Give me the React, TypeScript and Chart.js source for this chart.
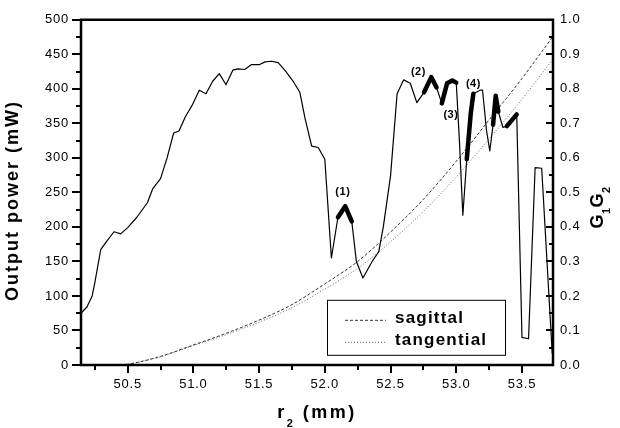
import React, { useEffect, useRef } from "react";
import { Chart, registerables } from "chart.js";
Chart.register(...registerables);

// ---- data ----
const r2Power = [50.15, 50.19, 50.23, 50.25, 50.295, 50.34, 50.396, 50.447, 50.5, 50.57, 50.65, 50.69, 50.75, 50.8, 50.85, 50.89, 50.94, 50.99, 51.045, 51.096, 51.147, 51.197, 51.248, 51.3, 51.34, 51.39, 51.44, 51.5, 51.545, 51.595, 51.645, 51.7, 51.755, 51.81, 51.85, 51.9, 51.95, 52.0, 52.05, 52.1, 52.155, 52.205, 52.24, 52.29, 52.36, 52.41, 52.445, 52.5, 52.55, 52.6, 52.65, 52.7, 52.755, 52.81, 52.85, 52.89, 52.93, 52.97, 53.0, 53.025, 53.05, 53.08, 53.11, 53.13, 53.18, 53.2, 53.23, 53.255, 53.28, 53.3, 53.32, 53.355, 53.385, 53.46, 53.5, 53.55, 53.6, 53.65, 53.73];
const outputPower = [76, 84, 100, 119, 167, 179, 193, 190, 199, 214, 235, 255, 270, 300, 336, 339, 360, 376, 398, 393, 411, 422, 406, 427, 429, 428, 435, 435, 439, 440, 438, 426, 412, 395, 357, 317, 315, 298, 155, 214, 230, 208, 150, 126, 150, 164, 200, 274, 393, 413, 408, 380, 395, 417, 402, 379, 408, 412, 409, 321, 217, 298, 364, 393, 398, 398, 340, 310, 348, 390, 367, 344, 346, 363, 40, 38, 286, 285, 17];
// stretches of the power curve drawn with a heavy line [from r2, to r2]
const thickStart = [52.1, 52.755, 52.89, 53.08, 53.28, 53.385];
const thickEnd = [52.205, 52.85, 53.0, 53.13, 53.32, 53.46];

const r2G = [50.45, 50.5, 50.75, 51.0, 51.25, 51.5, 51.75, 52.0, 52.25, 52.5, 52.75, 53.0, 53.25, 53.5, 53.736];
const sagittalG = [0, 0.002, 0.025, 0.058, 0.092, 0.13, 0.175, 0.235, 0.3, 0.385, 0.48, 0.59, 0.71, 0.83, 0.952];
const tangentialG = [0, 0.002, 0.024, 0.056, 0.088, 0.124, 0.166, 0.22, 0.28, 0.357, 0.445, 0.545, 0.655, 0.77, 0.886];

const peakLabels = ["(1)", "(2)", "(3)", "(4)"];
const peakX = [52.137, 52.712, 52.959, 53.13];
const peakY = [250, 424, 362, 407];

const xTicks = [50.5, 51.0, 51.5, 52.0, 52.5, 53.0, 53.5];
const xMinorTicks = [50.25, 50.75, 51.25, 51.75, 52.25, 52.75, 53.25];
const powerTicks = [0, 50, 100, 150, 200, 250, 300, 350, 400, 450, 500];
const powerMinorTicks = [25, 75, 125, 175, 225, 275, 325, 375, 425, 475];
const gTicks = [0, 0.1, 0.2, 0.3, 0.4, 0.5, 0.6, 0.7, 0.8, 0.9, 1.0];
const gMinorTicks = [0.05, 0.15, 0.25, 0.35, 0.45, 0.55, 0.65, 0.75, 0.85, 0.95];

const X_MIN = 50.145;
const X_MAX = 53.736;

const FONT = '"Liberation Sans", Arial, Helvetica, sans-serif';

const isThick = (a: number, b: number) => {
  for (let i = 0; i < thickStart.length; i++) {
    if (a >= thickStart[i] - 1e-6 && b <= thickEnd[i] + 1e-6) return true;
  }
  return false;
};

const decorPlugin = {
  id: "decor",
  beforeDraw(chart: any) {
    chart.ctx.letterSpacing = "0.8px";
  },
  afterDraw(chart: any) {
    const ctx = chart.ctx as CanvasRenderingContext2D;
    const { left, right, top, bottom } = chart.chartArea;
    const xs = chart.scales.x;
    const ys = chart.scales.y;
    const y2 = chart.scales.y2;
    ctx.save();
    (ctx as any).letterSpacing = "0px";
    ctx.strokeStyle = "#000";
    ctx.fillStyle = "#000";

    // frame
    ctx.lineWidth = 2.5;
    ctx.beginPath();
    ctx.rect(left, top, right - left, bottom - top);
    ctx.stroke();

    // tick marks
    ctx.lineWidth = 2;
    ctx.beginPath();
    xTicks.forEach((v) => {
      const p = Math.round(xs.getPixelForValue(v));
      ctx.moveTo(p, bottom);
      ctx.lineTo(p, bottom + 8);
    });
    xMinorTicks.forEach((v) => {
      const p = Math.round(xs.getPixelForValue(v));
      ctx.moveTo(p, bottom);
      ctx.lineTo(p, bottom + 5);
    });
    powerTicks.forEach((v) => {
      const p = Math.round(ys.getPixelForValue(v));
      ctx.moveTo(left - 9, p);
      ctx.lineTo(left, p);
    });
    powerMinorTicks.forEach((v) => {
      const p = Math.round(ys.getPixelForValue(v));
      ctx.moveTo(left - 5, p);
      ctx.lineTo(left, p);
    });
    gTicks.forEach((v) => {
      const p = Math.round(y2.getPixelForValue(v));
      ctx.moveTo(right - 7, p);
      ctx.lineTo(right, p);
    });
    gMinorTicks.forEach((v) => {
      const p = Math.round(y2.getPixelForValue(v));
      ctx.moveTo(right - 4, p);
      ctx.lineTo(right, p);
    });
    ctx.stroke();

    // peak annotations
    ctx.font = `bold 11px ${FONT}`;
    (ctx as any).letterSpacing = "0.5px";
    ctx.textAlign = "center";
    ctx.textBaseline = "middle";
    peakLabels.forEach((t, i) => {
      ctx.fillText(t, xs.getPixelForValue(peakX[i]), ys.getPixelForValue(peakY[i]));
    });

    // legend box
    const lx = left + 246;
    const ly = top + 280;
    ctx.lineWidth = 1;
    ctx.strokeStyle = "#000";
    ctx.strokeRect(lx + 0.5, ly + 0.5, 178, 55);
    ctx.lineWidth = 1;
    ctx.setLineDash([3, 2]);
    ctx.strokeStyle = "#333";
    ctx.beginPath();
    ctx.moveTo(lx + 18, ly + 20.5);
    ctx.lineTo(lx + 59, ly + 20.5);
    ctx.stroke();
    ctx.setLineDash([1, 2]);
    ctx.strokeStyle = "#666";
    ctx.beginPath();
    ctx.moveTo(lx + 18, ly + 42.5);
    ctx.lineTo(lx + 59, ly + 42.5);
    ctx.stroke();
    ctx.setLineDash([]);
    ctx.font = `bold 17px ${FONT}`;
    (ctx as any).letterSpacing = "1.2px";
    ctx.textAlign = "left";
    ctx.textBaseline = "alphabetic";
    ctx.fillStyle = "#000";
    ctx.fillText("sagittal", lx + 68, ly + 23);
    ctx.fillText("tangential", lx + 68, ly + 45);

    // left axis title
    ctx.save();
    ctx.translate(17.5, (top + bottom) / 2 + 8);
    ctx.rotate(-Math.PI / 2);
    ctx.font = `bold 18px ${FONT}`;
    (ctx as any).letterSpacing = "2px";
    ctx.textAlign = "center";
    ctx.textBaseline = "alphabetic";
    ctx.fillText("Output power (mW)", 0, 0);
    ctx.restore();

    // helper for text with subscripts
    const drawParts = (parts: { t: string; sub: boolean }[], cx: number, subDy: number, spacing: number) => {
      const widths = parts.map((p) => {
        ctx.font = p.sub ? `bold 11px ${FONT}` : `bold 18px ${FONT}`;
        (ctx as any).letterSpacing = `${spacing}px`;
        return ctx.measureText(p.t).width;
      });
      const total = widths.reduce((a, b) => a + b, 0);
      let x = cx - total / 2;
      parts.forEach((p, i) => {
        ctx.font = p.sub ? `bold 11px ${FONT}` : `bold 18px ${FONT}`;
        (ctx as any).letterSpacing = `${spacing}px`;
        ctx.fillText(p.t, x, p.sub ? subDy : 0);
        x += widths[i];
      });
    };

    // bottom axis title r2 (mm)
    ctx.save();
    ctx.translate(0, 418);
    ctx.textAlign = "left";
    ctx.textBaseline = "alphabetic";
    drawParts(
      [
        { t: "r", sub: false },
        { t: "2", sub: true },
        { t: " (mm)", sub: false },
      ],
      (left + right) / 2,
      9,
      2.5
    );
    ctx.restore();

    // right axis title G1G2
    ctx.save();
    ctx.translate(603, (top + bottom) / 2 + 15);
    ctx.rotate(-Math.PI / 2);
    ctx.textAlign = "left";
    ctx.textBaseline = "alphabetic";
    drawParts(
      [
        { t: "G", sub: false },
        { t: "1", sub: true },
        { t: "G", sub: false },
        { t: "2", sub: true },
      ],
      0,
      7,
      0.5
    );
    ctx.restore();

    ctx.restore();
  },
};

export default function App() {
  const ref = useRef<HTMLCanvasElement | null>(null);
  useEffect(() => {
    if (!ref.current) return;
    const tickFont = { family: FONT, size: 13 };
    const chart = new Chart(ref.current, {
      type: "line",
      data: {
        datasets: [
          {
            label: "Output power",
            data: r2Power.map((x, i) => ({ x, y: outputPower[i] })),
            yAxisID: "y",
            borderColor: "#000",
            borderWidth: 1.2,
            pointRadius: 0,
            tension: 0,
            borderJoinStyle: "round",
            borderCapStyle: "round",
            segment: {
              borderWidth: (c: any) => (isThick(c.p0.parsed.x, c.p1.parsed.x) ? 4.5 : 1.2),
            },
          } as any,
          {
            label: "sagittal",
            data: r2G.map((x, i) => ({ x, y: sagittalG[i] })),
            yAxisID: "y2",
            borderColor: "#333",
            borderWidth: 1,
            borderDash: [3, 2],
            pointRadius: 0,
            cubicInterpolationMode: "monotone",
          } as any,
          {
            label: "tangential",
            data: r2G.map((x, i) => ({ x, y: tangentialG[i] })),
            yAxisID: "y2",
            borderColor: "#666",
            borderWidth: 1,
            borderDash: [1, 2],
            pointRadius: 0,
            cubicInterpolationMode: "monotone",
          } as any,
        ],
      },
      options: {
        animation: false,
        responsive: false,
        maintainAspectRatio: false,
        layout: { padding: { top: 15, left: 0, right: 0, bottom: 0 } },
        plugins: { legend: { display: false }, tooltip: { enabled: false } },
        scales: {
          x: {
            type: "linear",
            position: "bottom",
            min: X_MIN,
            max: X_MAX,
            grid: { display: false, drawTicks: false },
            border: { display: false },
            ticks: {
              font: tickFont,
              color: "#000",
              padding: 12,
              maxRotation: 0,
              autoSkip: false,
              callback: (v: any) => Number(v).toFixed(1),
            },
            afterBuildTicks: (s: any) => {
              s.ticks = xTicks.map((v) => ({ value: v }));
            },
            afterFit: (s: any) => {
              s.height = 63;
            },
          },
          y: {
            type: "linear",
            position: "left",
            min: 0,
            max: 500,
            grid: { display: false, drawTicks: false },
            border: { display: false },
            ticks: {
              font: tickFont,
              color: "#000",
              padding: 12,
              autoSkip: false,
              callback: (v: any) => String(Math.round(Number(v))),
            },
            afterBuildTicks: (s: any) => {
              s.ticks = powerTicks.map((v) => ({ value: v }));
            },
            afterFit: (s: any) => {
              s.width = 81;
            },
          },
          y2: {
            type: "linear",
            position: "right",
            min: 0,
            max: 1,
            grid: { display: false, drawTicks: false },
            border: { display: false },
            ticks: {
              font: tickFont,
              color: "#000",
              padding: 7,
              autoSkip: false,
              callback: (v: any) => Number(v).toFixed(1),
            },
            afterBuildTicks: (s: any) => {
              s.ticks = gTicks.map((v) => ({ value: v }));
            },
            afterFit: (s: any) => {
              s.width = 67;
            },
          },
        },
      } as any,
      plugins: [decorPlugin],
    });
    return () => chart.destroy();
  }, []);
  return (
    <div style={{ position: "absolute", left: 0, top: 0, width: 620, height: 428, background: "#fff" }}>
      <canvas ref={ref} width={620} height={428} style={{ width: 620, height: 428 }} />
    </div>
  );
}
